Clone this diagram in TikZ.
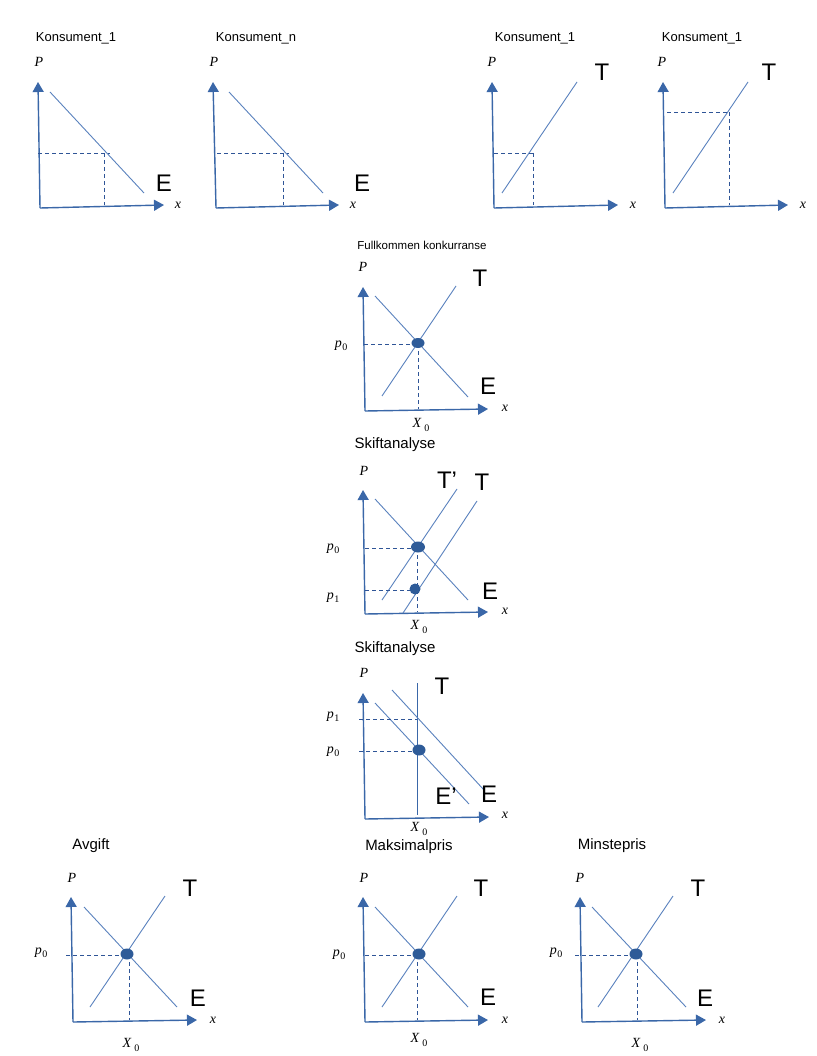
\documentclass[tikz,border=0pt]{standalone}
\usepackage{fontspec}
\setmainfont{Liberation Sans}
\newfontfamily\tms{Liberation Serif}
\usetikzlibrary{arrows.meta}
\definecolor{axisblue}{HTML}{3A67A8}
\definecolor{lineblue}{HTML}{5A82BE}
\definecolor{dashblue}{HTML}{2F5597}
\definecolor{dotblue}{HTML}{2E5B98}
\newcommand\psub[2]{#1\kern0.5pt\raisebox{-3pt}{\fontsize{10}{10}\selectfont\upshape #2}}
\newcommand\xsub[2]{#1\kern3pt\raisebox{-4pt}{\fontsize{10}{10}\selectfont\upshape #2}}
\tikzset{
 axis/.style={draw=axisblue, line width=1.4pt, -{Triangle[length=10pt,width=11pt]}},
 curve/.style={draw=lineblue, line width=0.9pt},
 guide/.style={draw=dashblue, line width=0.9pt, dash pattern=on 4pt off 3pt},
 dot/.style={fill=dotblue, draw=none},
 ttl/.style={inner sep=0, font=\fontsize{13}{13}\selectfont},
 ttlsmall/.style={inner sep=0, font=\fontsize{11.5}{11.5}\selectfont},
 ttlmid/.style={inner sep=0, font=\fontsize{15}{15}\selectfont},
 big/.style={inner sep=0, font=\fontsize{24}{24}\selectfont},
 mlbl/.style={inner sep=0, font=\fontsize{14}{14}\selectfont\tms\itshape},
}
\begin{document}
\begin{tikzpicture}[x=1pt,y=-1pt]
\path[use as bounding box, fill=white] (0,0) rectangle (816,1056);

% ---- Panel 1: Konsument_1 (demand)
\node[ttl] (t1) at (76,38) {Konsument\_1};
\node[mlbl] (P1) at (39,62) {P};
\draw[axis] (40,208) -- (38,82);
\draw[axis] (40,208) -- (164,205);
\draw[curve] (50,92) -- (144,193);
\draw[guide] (38,153) -- (110,153);
\draw[guide] (104,153) -- (104,205);
\node[big] (E1) at (164,183) {E};
\node[mlbl] (x1) at (178,205) {x};

% ---- Panel 2: Konsument_n (demand)
\node[ttl] (t2) at (256,38) {Konsument\_n};
\node[mlbl] (P2) at (214,62) {P};
\draw[axis] (216,208) -- (213,82);
\draw[axis] (216,208) -- (339,205);
\draw[curve] (229,92) -- (323,193);
\draw[guide] (217,153) -- (289,153);
\draw[guide] (283,153) -- (283,205);
\node[big] (E2) at (362,183) {E};
\node[mlbl] (x2) at (353,205) {x};

% ---- Panel 3: Konsument_1 (supply)
\node[ttl] (t3) at (535,38) {Konsument\_1};
\node[mlbl] (P3) at (492,62) {P};
\draw[axis] (494,208) -- (492,82);
\draw[axis] (494,208) -- (618,205);
\draw[curve] (502,193) -- (577,82);
\draw[guide] (494,153) -- (533,153);
\draw[guide] (533,153) -- (533,205);
\node[big] (T3) at (602,72) {T};
\node[mlbl] (x3) at (633,205) {x};

% ---- Panel 4: Konsument_1 (supply, high price)
\node[ttl] (t4) at (702,38) {Konsument\_1};
\node[mlbl] (P4) at (662,62) {P};
\draw[axis] (665,208) -- (663,82);
\draw[axis] (665,208) -- (788,205);
\draw[curve] (673,193) -- (748,82);
\draw[guide] (667,112) -- (729,112);
\draw[guide] (729,112) -- (729,205);
\node[big] (T4) at (769,72) {T};
\node[mlbl] (x4) at (803,205) {x};

% ---- Panel 5: Fullkommen konkurranse
\node[ttlsmall] (t5) at (422,245) {Fullkommen konkurranse};
\node[mlbl] (P5) at (363,267) {P};
\draw[axis] (365,411) -- (363,287);
\draw[axis] (365,411) -- (488,409);
\draw[curve] (375,296) -- (468,397);
\draw[curve] (382,396) -- (456,286);
\draw[guide] (364,344) -- (418,344);
\draw[guide] (418,344) -- (418,409);
\fill[dot] (418,343) ellipse (6.5 and 5);
\node[mlbl] (p05) at (341,346) {\psub{p}{0}};
\node[mlbl] (X05) at (421,425) {\xsub{X}{0}};
\node[big] (T5) at (480,278) {T};
\node[big] (E5) at (488,386) {E};
\node[mlbl] (x5) at (505,408) {x};

% ---- Panel 6: Skiftanalyse (supply shift)
\node[ttlmid] (t6) at (395,445) {Skiftanalyse};
\node[mlbl] (P6) at (364,471) {P};
\draw[axis] (365,614) -- (363,490);
\draw[axis] (365,614) -- (488,612);
\draw[curve] (375,499) -- (468,600);
\draw[curve] (382,600) -- (457,489);
\draw[curve] (403,613) -- (477,501);
\draw[guide] (365,548) -- (418,548);
\draw[guide] (365,590) -- (415,590);
\draw[guide] (417,548) -- (417,612);
\fill[dot] (418,547) ellipse (7 and 5.5);
\fill[dot] (415,589) ellipse (5.5 and 5.5);
\node[mlbl] (p06) at (333,549) {\psub{p}{0}};
\node[mlbl] (p16) at (333,598) {\psub{p}{1}};
\node[mlbl] (X06) at (419,627) {\xsub{X}{0}};
\node[big] (Tp6) at (447,480) {T’};
\node[big] (T6) at (482,482) {T};
\node[big] (E6) at (490,591) {E};
\node[mlbl] (x6) at (505,611) {x};

% ---- Panel 7: Skiftanalyse (demand shift)
\node[ttlmid] (t7) at (395,649) {Skiftanalyse};
\node[mlbl] (P7) at (364,673) {P};
\draw[axis] (365,819) -- (363,693);
\draw[axis] (365,819) -- (489,817);
\draw[draw=axisblue, line width=1pt] (417,683) -- (417,815);
\draw[curve] (392,690) -- (484,790);
\draw[curve] (375,703) -- (469,804);
\draw[guide] (359,719) -- (417,719);
\draw[guide] (359,751) -- (419,751);
\fill[dot] (419,750) ellipse (6.5 and 5.5);
\node[mlbl] (p17) at (333,717) {\psub{p}{1}};
\node[mlbl] (p07) at (333,752) {\psub{p}{0}};
\node[mlbl] (X07) at (419,829) {\xsub{X}{0}};
\node[big] (T7) at (442,686) {T};
\node[big] (Ep7) at (446,796) {E’};
\node[big] (E7) at (489,794) {E};
\node[mlbl] (x7) at (505,815) {x};

% ---- Panel 8: Avgift
\node[ttlmid] (t8) at (91,846) {Avgift};
\node[mlbl] (P8) at (72,878) {P};
\draw[axis] (73,1022) -- (71,897);
\draw[axis] (73,1022) -- (197,1020);
\draw[curve] (84,907) -- (177,1007);
\draw[curve] (90,1007) -- (165,896);
\draw[guide] (66,955) -- (127,955);
\draw[guide] (129,955) -- (129,1020);
\fill[dot] (127,954) ellipse (6.5 and 5.5);
\node[mlbl] (p08) at (41,953) {\psub{p}{0}};
\node[mlbl] (X08) at (131,1045) {\xsub{X}{0}};
\node[big] (T8) at (190,888) {T};
\node[big] (E8) at (198,998) {E};
\node[mlbl] (x8) at (213,1020) {x};

% ---- Panel 9: Maksimalpris
\node[ttlmid] (t9) at (409,847) {Maksimalpris};
\node[mlbl] (P9) at (364,878) {P};
\draw[axis] (365,1022) -- (363,897);
\draw[axis] (365,1022) -- (488,1020);
\draw[curve] (375,907) -- (468,1007);
\draw[curve] (382,1007) -- (457,896);
\draw[guide] (365,955) -- (419,955);
\draw[guide] (417,955) -- (417,1020);
\fill[dot] (419,954) ellipse (6.5 and 5.5);
\node[mlbl] (p09) at (339,955) {\psub{p}{0}};
\node[mlbl] (X09) at (419,1040) {\xsub{X}{0}};
\node[big] (T9) at (481,888) {T};
\node[big] (E9) at (488,997) {E};
\node[mlbl] (x9) at (505,1020) {x};

% ---- Panel 10: Minstepris
\node[ttlmid] (t10) at (612,846) {Minstepris};
\node[mlbl] (P10) at (580,878) {P};
\draw[axis] (582,1022) -- (580,897);
\draw[axis] (582,1022) -- (706,1020);
\draw[curve] (592,907) -- (686,1007);
\draw[curve] (598,1007) -- (673,896);
\draw[guide] (575,955) -- (636,955);
\draw[guide] (637,955) -- (637,1020);
\fill[dot] (636,954) ellipse (6.5 and 5.5);
\node[mlbl] (p010) at (556,953) {\psub{p}{0}};
\node[mlbl] (X010) at (640,1045) {\xsub{X}{0}};
\node[big] (T10) at (698,888) {T};
\node[big] (E10) at (705,998) {E};
\node[mlbl] (x10) at (722,1020) {x};
\end{tikzpicture}
\end{document}
